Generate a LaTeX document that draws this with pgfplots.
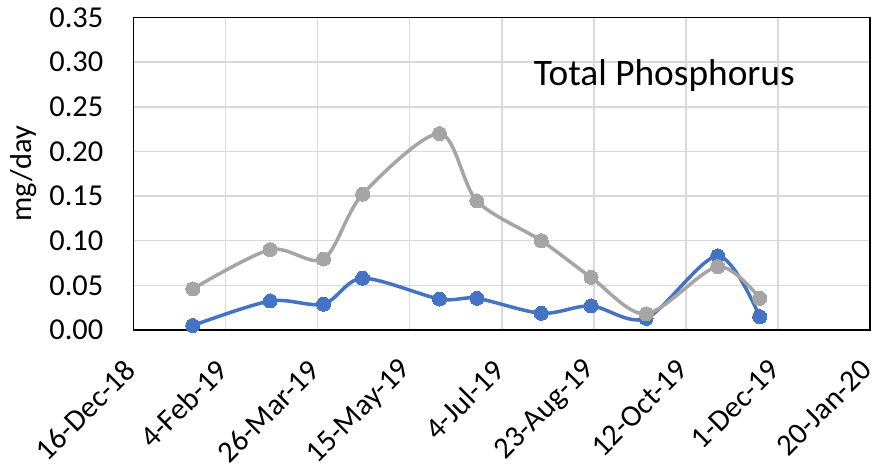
\documentclass[border=0pt]{standalone}
\usepackage{pgfplots}
\pgfplotsset{compat=1.18}
\usepackage{fontspec}
\setmainfont{Carlito}
\definecolor{sblue}{HTML}{4472C4}
\definecolor{sgray}{HTML}{A5A5A5}
\definecolor{gridc}{HTML}{D9D9D9}
\begin{document}
\begin{tikzpicture}
\begin{axis}[
  scale only axis, width=736.5bp, height=312.5bp,
  xmin=0, xmax=400, ymin=0, ymax=0.35,
  xtick={0,50,100,150,200,250,300,350,400},
  xticklabels={16-Dec-18,4-Feb-19,26-Mar-19,15-May-19,4-Jul-19,23-Aug-19,12-Oct-19,1-Dec-19,20-Jan-20},
  ytick={0,0.05,0.1,0.15,0.2,0.25,0.3,0.35},
  grid=major,
  major grid style={gridc, line width=1.5bp},
  axis line style={black, line width=1.5bp},
  major tick length=0pt,
  /pgf/number format/assume math mode=true,
  y tick label style={font=\fontsize{30.5}{35}\selectfont, /pgf/number format/fixed, /pgf/number format/fixed zerofill, /pgf/number format/precision=2, inner sep=0pt, xshift=-30bp},
  xticklabel style={font=\fontsize{30.5}{36}\selectfont, xshift=-3bp, yshift=-35bp, rotate=45, anchor=east, inner sep=0pt},
  ylabel={mg/day},
  every axis y label/.style={at={(axis description cs:-0.1487,0.5)}, rotate=90, anchor=center, font=\fontsize{30.5}{36}\selectfont},
  clip=false,
]
\addplot[sblue, line width=3.5bp, smooth, tension=0.5, mark=*, mark size=7bp, mark options={solid, fill=sblue, draw=sblue, line width=0pt}] coordinates {
(32.2,0.005) (74.2,0.0325) (103.2,0.029) (124.4,0.058) (166.2,0.0347) (186.5,0.0355)
(221.5,0.0187) (248.5,0.027) (278.4,0.013) (317.3,0.083) (340.1,0.015)
};
\addplot[sgray, line width=3.5bp, smooth, tension=0.5, mark=*, mark size=7bp, mark options={solid, fill=sgray, draw=sgray, line width=0pt}] coordinates {
(32.2,0.046) (74.2,0.090) (103.2,0.0795) (124.4,0.152) (166.2,0.220) (186.5,0.1445)
(221.5,0.100) (248.5,0.059) (278.4,0.018) (317.3,0.071) (340.1,0.0355)
};
\node[anchor=base, font=\fontsize{37.5}{44}\selectfont] at (axis cs:288.3,0.2733) {Total Phosphorus};
\end{axis}
\pgfresetboundingbox
\path[use as bounding box] (current axis.south west) ++(-133.5bp,-140bp) rectangle ++(877bp,470bp);
\end{tikzpicture}
\end{document}
